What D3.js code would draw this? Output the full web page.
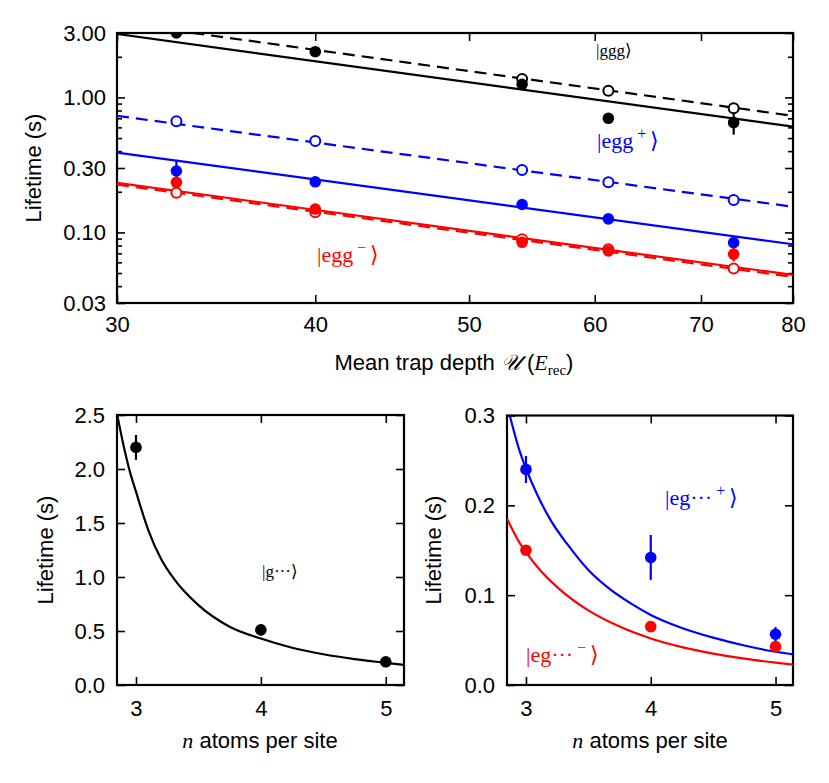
<!DOCTYPE html>
<html><head><meta charset="utf-8">
<script src="https://cdn.jsdelivr.net/npm/d3@7"></script>
<style>
body{margin:0;background:#fff}
svg text{font-family:"Liberation Sans",Arial,Helvetica,sans-serif;fill:#000}
.tick text{font-size:22px}
.tick line{stroke:#000;stroke-width:1.6}
.serif{font-family:"Liberation Serif","DejaVu Serif",serif !important}
</style>
</head><body><svg id="c" width="829" height="783"></svg>
<script>
// ---------- top panel data ----------
const trapDepth = [32.7, 40, 54.0, 61.2, 73.4];
const gggFilled = [3.0, 2.18, 1.25, 0.70, 0.65];
const gggFilledErr = [0, 0, 0, 0, 0.12];
const gggOpen = [null, null, 1.37, 1.12, 0.83];
const eggPlusOpen = [0.665, 0.475, 0.29, 0.235, 0.174];
const eggPlusFilled = [0.285, 0.237, 0.161, 0.126, 0.084];
const eggPlusFilledErr = [0.06, 0, 0, 0, 0];
const eggMinusOpen = [0.197, 0.141, 0.089, 0.075, 0.054];
const eggMinusFilled = [0.235, 0.149, 0.0845, 0.0728, 0.069];
const eggMinusFilledErr = [0, 0, 0, 0, 0.008];
const fitDepth = [30, 80];
const gggFitSolid = [2.95, 0.607];
const gggFitDashed = [3.59, 0.73];
const eggPlusFitSolid = [0.39, 0.0817];
const eggPlusFitDashed = [0.73, 0.155];
const eggMinusFitSolid = [0.233, 0.0484];
const eggMinusFitDashed = [0.226, 0.0468];
const topXTicks = [30, 40, 50, 60, 70, 80];
const topYTicks = [0.03, 0.1, 0.3, 1, 3];

// ---------- bottom panels data ----------
const atomsN = [3, 4, 5];
const gLife = [2.2, 0.51, 0.215];
const gErr = [0.115, 0.05, 0.03];
const gCurveN = [2.85, 2.9, 2.95, 3.0, 3.1, 3.2, 3.3, 3.5, 3.75, 4.0, 4.25, 4.5, 4.75, 5.0, 5.15];
const gCurveV = [2.5, 2.22, 1.98, 1.79, 1.43, 1.17, 0.99, 0.74, 0.54, 0.43, 0.345, 0.285, 0.24, 0.205, 0.185];
const egPlusLife = [0.240, 0.142, 0.0565];
const egPlusErr = [0.015, 0.025, 0.008];
const egMinusLife = [0.150, 0.065, 0.0427];
const egMinusErr = [0.003, 0.003, 0.003];
const egPlusCurveN = [2.87, 2.95, 3.0, 3.1, 3.2, 3.33, 3.5, 3.67, 3.85, 4.0, 4.25, 4.5, 4.75, 5.0, 5.15];
const egPlusCurveV = [0.300, 0.260, 0.241, 0.209, 0.183, 0.157, 0.128, 0.107, 0.090, 0.078, 0.0635, 0.0527, 0.044, 0.037, 0.034];
const egMinusCurveN = [2.848, 2.95, 3.0, 3.1, 3.25, 3.5, 3.75, 4.0, 4.25, 4.5, 4.75, 5.0, 5.15];
const egMinusCurveV = [0.185, 0.158, 0.148, 0.130, 0.109, 0.083, 0.065, 0.0518, 0.0422, 0.035, 0.0293, 0.0249, 0.0226];
const bottomXTicks = [3, 4, 5];
const leftYTicks = [0, 0.5, 1.0, 1.5, 2.0, 2.5];
const rightYTicks = [0, 0.1, 0.2, 0.3];

const BLUE = "#0000ff", RED = "#ff0000", BLACK = "#000";
const svg = d3.select("#c");
svg.append("rect").attr("width", 829).attr("height", 783).attr("fill", "#fff");

let clipId = 0;
function panel(x, y, opt) {
  const [x0, x1] = x.range(), [y0, y1] = y.range(); // y0 bottom, y1 top
  const g = svg.append("g");
  const id = "clip" + (clipId++);
  g.append("clipPath").attr("id", id).append("rect")
    .attr("x", x0).attr("y", y1).attr("width", x1 - x0).attr("height", y0 - y1);
  g.append("g").attr("transform", `translate(0,${y0})`)
    .call(d3.axisBottom(x).tickValues(opt.xTicks).tickSize(-8).tickPadding(opt.xPad).tickFormat(opt.xFmt));
  g.append("g").attr("transform", `translate(0,${y1})`)
    .call(d3.axisTop(x).tickValues(opt.xTicks).tickSize(-8).tickFormat(""));
  g.append("g").attr("transform", `translate(${x0},0)`)
    .call(d3.axisLeft(y).tickValues(opt.yTicks).tickSize(-8).tickPadding(opt.yPad).tickFormat(opt.yFmt));
  g.append("g").attr("transform", `translate(${x1},0)`)
    .call(d3.axisRight(y).tickValues(opt.yTicks).tickSize(-8).tickFormat(""));
  if (opt.yMinor) {
    g.append("g").attr("transform", `translate(${x0},0)`)
      .call(d3.axisLeft(y).tickValues(opt.yMinor).tickSize(-5).tickFormat(""));
    g.append("g").attr("transform", `translate(${x1},0)`)
      .call(d3.axisRight(y).tickValues(opt.yMinor).tickSize(-5).tickFormat(""));
  }
  g.selectAll(".domain").remove();
  g.append("rect").attr("x", x0).attr("y", y1).attr("width", x1 - x0).attr("height", y0 - y1)
    .attr("fill", "none").attr("stroke", "#000").attr("stroke-width", 2.2);
  const plot = g.append("g").attr("clip-path", `url(#${id})`);
  return { g, plot };
}

function drawLine(p, xs, ys, x, y, color, dashed, curve) {
  const pts = xs.map((d, i) => [d, ys[i]]);
  p.append("path").datum(pts)
    .attr("d", d3.line().x(d => x(d[0])).y(d => y(d[1])).curve(curve || d3.curveLinear))
    .attr("fill", "none").attr("stroke", color).attr("stroke-width", 2.2)
    .attr("stroke-dasharray", dashed ? "12,7" : null);
}
function drawPoints(p, xs, ys, errs, x, y, color, open) {
  xs.forEach((d, i) => {
    const v = ys[i];
    if (v == null) return;
    const e = errs ? errs[i] : 0;
    if (e) {
      p.append("line").attr("x1", x(d)).attr("x2", x(d))
        .attr("y1", y(v - e)).attr("y2", y(v + e))
        .attr("stroke", color).attr("stroke-width", 2.2);
    }
    p.append("circle").attr("cx", x(d)).attr("cy", y(v))
      .attr("r", open ? 5 : 5.8)
      .attr("fill", open ? "#fff" : color)
      .attr("stroke", color).attr("stroke-width", open ? 2 : 0);
  });
}
function ket(parent, xPos, yPos, size, color, body, sup) {
  const t = parent.append("text").attr("class", "serif").attr("x", xPos).attr("y", yPos)
    .attr("font-size", size).style("fill", color);
  t.append("tspan").text("|" + body);
  if (sup) {
    t.append("tspan").attr("dx", 4).attr("dy", -9).attr("font-size", size * 0.72).text(sup);
    t.append("tspan").attr("dx", 4).attr("dy", 9).text("\u27E9");
  } else {
    t.append("tspan").text("\u27E9");
  }
}

// ================= TOP PANEL =================
const xTop = d3.scaleLog().domain([30, 80]).range([117, 793]);
const yTop = d3.scaleLog().domain([0.03, 3]).range([303, 33]);
const topMinor = yTop.ticks().filter(t => !topYTicks.some(m => Math.abs(m - t) < 1e-9));
const topPanel = panel(xTop, yTop, {
  xTicks: topXTicks, yTicks: topYTicks, yMinor: topMinor,
  xFmt: d3.format("d"), yFmt: d3.format(".2f"), xPad: 13, yPad: 11
});
const tp = topPanel.plot;
drawLine(tp, fitDepth, gggFitSolid, xTop, yTop, BLACK, false);
drawLine(tp, fitDepth, gggFitDashed, xTop, yTop, BLACK, true);
drawLine(tp, fitDepth, eggPlusFitDashed, xTop, yTop, BLUE, true);
drawLine(tp, fitDepth, eggPlusFitSolid, xTop, yTop, BLUE, false);
drawLine(tp, fitDepth, eggMinusFitDashed, xTop, yTop, RED, true);
drawLine(tp, fitDepth, eggMinusFitSolid, xTop, yTop, RED, false);
drawPoints(tp, trapDepth, gggOpen, null, xTop, yTop, BLACK, true);
drawPoints(tp, trapDepth, gggFilled, gggFilledErr, xTop, yTop, BLACK, false);
drawPoints(tp, trapDepth, eggPlusOpen, null, xTop, yTop, BLUE, true);
drawPoints(tp, trapDepth, eggPlusFilled, eggPlusFilledErr, xTop, yTop, BLUE, false);
drawPoints(tp, trapDepth, eggMinusOpen, null, xTop, yTop, RED, true);
drawPoints(tp, trapDepth, eggMinusFilled, eggMinusFilledErr, xTop, yTop, RED, false);

ket(svg, 596, 56, 17, BLACK, "ggg", null);
ket(svg, 597, 148, 22, BLUE, "egg", "+");
ket(svg, 317, 262, 22, RED, "egg", "\u2212");

const xt = svg.append("text").attr("x", 454).attr("y", 370).attr("text-anchor", "middle").attr("font-size", 22);
xt.append("tspan").text("Mean trap depth ");
xt.append("tspan").attr("class", "serif").style("font-style", "italic").text("\uD835\uDCB0");
xt.append("tspan").text(" (");
xt.append("tspan").attr("class", "serif").style("font-style", "italic").text("E");
xt.append("tspan").attr("class", "serif").attr("font-size", 15).attr("dy", 5).text("rec");
xt.append("tspan").attr("dy", -5).text(")");
svg.append("text").attr("transform", "translate(41,168) rotate(-90)").attr("text-anchor", "middle")
  .attr("font-size", 22).text("Lifetime (s)");

// ================= BOTTOM LEFT =================
const xBL = d3.scaleLinear().domain([2.848, 5.146]).range([117, 404]);
const yBL = d3.scaleLinear().domain([0, 2.5]).range([685, 415]);
const blPanel = panel(xBL, yBL, {
  xTicks: bottomXTicks, yTicks: leftYTicks,
  xFmt: d3.format("d"), yFmt: d3.format(".1f"), xPad: 15, yPad: 12
});
drawLine(blPanel.plot, gCurveN, gCurveV, xBL, yBL, BLACK, false, d3.curveMonotoneX);
drawPoints(blPanel.plot, atomsN, gLife, gErr, xBL, yBL, BLACK, false);
svg.append("text").attr("class", "serif").attr("x", 262).attr("y", 577)
  .attr("font-size", 17).text("|g\u00B7\u00B7\u00B7\u27E9");
function nTitle(cx) {
  const t = svg.append("text").attr("x", cx).attr("y", 748).attr("text-anchor", "middle").attr("font-size", 22);
  t.append("tspan").attr("class", "serif").style("font-style", "italic").text("n");
  t.append("tspan").text(" atoms per site");
}
nTitle(260);
svg.append("text").attr("transform", "translate(53,550) rotate(-90)").attr("text-anchor", "middle")
  .attr("font-size", 22).text("Lifetime (s)");

// ================= BOTTOM RIGHT =================
const xBR = d3.scaleLinear().domain([2.848, 5.14]).range([507, 793]);
const yBR = d3.scaleLinear().domain([0, 0.3]).range([685, 415.5]);
const brPanel = panel(xBR, yBR, {
  xTicks: bottomXTicks, yTicks: rightYTicks,
  xFmt: d3.format("d"), yFmt: d3.format(".1f"), xPad: 15, yPad: 12
});
drawLine(brPanel.plot, egPlusCurveN, egPlusCurveV, xBR, yBR, BLUE, false, d3.curveMonotoneX);
drawLine(brPanel.plot, egMinusCurveN, egMinusCurveV, xBR, yBR, RED, false, d3.curveMonotoneX);
drawPoints(brPanel.plot, atomsN, egPlusLife, egPlusErr, xBR, yBR, BLUE, false);
drawPoints(brPanel.plot, atomsN, egMinusLife, egMinusErr, xBR, yBR, RED, false);
ket(svg, 665, 505, 22, BLUE, "eg\u00B7\u00B7\u00B7", "+");
ket(svg, 526, 662, 22, RED, "eg\u00B7\u00B7\u00B7", "\u2212");
nTitle(650);
svg.append("text").attr("transform", "translate(441,550) rotate(-90)").attr("text-anchor", "middle")
  .attr("font-size", 22).text("Lifetime (s)");
</script></body></html>
